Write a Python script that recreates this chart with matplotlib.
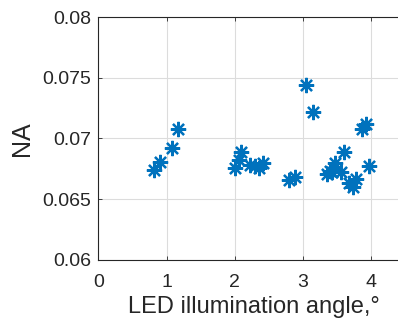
import matplotlib.pyplot as plt

# LED illumination angle (deg) vs numerical aperture
angle = [0.82, 0.91, 1.08, 1.17,
         2.00, 2.06, 2.09, 2.22, 2.29, 2.36, 2.41,
         2.79, 2.89, 3.05, 3.15,
         3.35, 3.40, 3.42, 3.47, 3.55, 3.60, 3.68, 3.73, 3.77, 3.87, 3.92, 3.97]
na = [0.0674, 0.0681, 0.0692, 0.0708,
      0.0676, 0.0682, 0.0689, 0.0678, 0.0677, 0.0676, 0.0680,
      0.0666, 0.0668, 0.0744, 0.0722,
      0.0671, 0.0673, 0.0672, 0.0680, 0.0672, 0.0689, 0.0663, 0.0660, 0.0667, 0.0708, 0.0712, 0.0677]

xticks = [0, 1, 2, 3, 4]
yticks = [0.06, 0.065, 0.07, 0.075, 0.08]
yticklabels = ["0.06", "0.065", "0.07", "0.075", "0.08"]

BLUE = "#0072BD"
DARK = "#262626"

plt.rcParams["font.family"] = ["Liberation Sans", "DejaVu Sans"]

fig = plt.figure(figsize=(3.98, 3.22), dpi=100)
ax = fig.add_axes([0.247, 0.193, 0.78, 0.754])

ax.plot(angle, na, linestyle="none", marker=(8, 2, 0), markersize=11,
        markeredgewidth=1.6, color=BLUE)

ax.set_xlim(0, 4.55)
ax.set_ylim(0.06, 0.08)
ax.set_xticks(xticks)
ax.set_yticks(yticks)
ax.set_yticklabels(yticklabels)
ax.grid(True, color="#dcdcdc", linewidth=0.8)
ax.set_axisbelow(True)

ax.tick_params(direction="in", length=3, colors=DARK, labelsize=14,
               top=True, right=True, width=0.6)
ax.tick_params(axis="x", pad=10)
ax.tick_params(axis="y", pad=5)
for s in ax.spines.values():
    s.set_color(DARK)
    s.set_linewidth(0.8)

ax.set_xlabel("LED illumination angle,°", fontsize=17, color=DARK, labelpad=4)
ax.set_ylabel("NA", fontsize=18, color=DARK, labelpad=6)

fig.savefig("out.png", dpi=100)
